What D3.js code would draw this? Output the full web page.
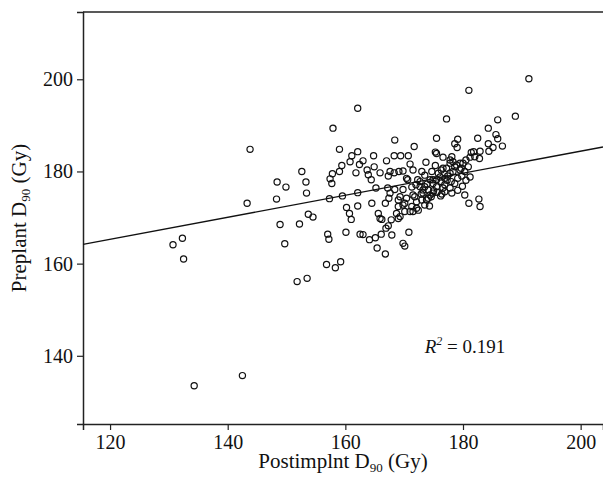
<!DOCTYPE html>
<html lang="en">
  <head>
    <meta charset="utf-8">
    <title>Preplant vs Postimplant D90</title>
    <script src="https://d3js.org/d3.v7.js"></script>
    <style>
      body { margin: 0; background: white; }
      svg { display: block; }
      text { font-family: "Liberation Serif", "DejaVu Serif", serif; fill: #111; }
    </style>
  </head>

  <body>
    <script>

      // data (Gy)
      const postD90 = [134.3, 142.5, 130.7, 132.3, 132.5, 149.7, 151.8, 153.5, 156.8, 158.3,
                       159.2, 157.0, 157.2, 160.1, 162.5, 163.0, 164.1, 165.1, 166.1, 167.9,
                       165.4, 166.8, 170.1, 170.8, 143.8, 148.4, 149.9, 143.3, 148.3, 148.9,
                       162.1, 157.9, 168.4, 171.7, 175.5, 175.3, 175.5, 159.0, 161.1, 162.1,
                       160.8, 163.0, 162.4, 164.8, 167.0, 168.3, 169.4, 170.7, 171.0, 173.7,
                       175.3, 159.4, 159.0, 152.6, 157.8, 157.4, 157.7, 161.8, 163.7, 164.9,
                       163.9, 164.4, 165.9, 167.3, 168.3, 169.1, 169.8, 171.5, 170.6, 173.0,
                       173.5, 174.7, 153.3, 153.4, 157.3, 159.5, 162.1, 165.2, 167.2, 167.6,
                       167.4, 168.4, 169.3, 169.8, 171.3, 171.5, 172.7, 173.2, 174.1, 174.9,
                       175.5, 174.6, 169.0, 170.1, 171.3, 172.1, 173.8, 174.3, 168.7, 171.0,
                       172.4, 162.1, 164.5, 166.8, 160.2, 160.7, 161.0, 165.6, 166.2, 167.8,
                       169.0, 167.3, 166.9, 153.7, 154.5, 152.2, 191.2, 181.0, 188.9, 185.9,
                       177.2, 184.3, 185.6, 185.9, 182.5, 179.1, 178.6, 179.0, 184.3, 185.1,
                       186.7, 184.4, 182.9, 181.4, 181.2, 182.0, 182.8, 180.5, 179.5, 178.1,
                       176.6, 177.8, 178.6, 180.3, 179.7, 176.6, 177.8, 175.8, 174.9, 176.9,
                       178.0, 175.5, 176.6, 175.0, 180.3, 182.7, 176.2, 176.9, 181.0, 182.9,
                       177.8, 167.6, 176.3, 177.2, 181.8, 180.0, 180.9, 178.3, 178.9, 179.5,
                       178.3, 170.4, 172.7, 173.5, 174.4, 176.3, 174.9, 174.1, 169.0, 170.4,
                       171.8, 173.0, 169.8, 172.1, 173.5, 170.1, 171.5, 165.9, 169.3, 169.8,
                       176.9, 177.8, 178.6, 179.1, 179.8, 180.5, 181.2, 178.1, 179.1, 179.9,
                       177.4, 176.1, 177.3, 173.9, 173.2, 172.3, 172.0, 172.9, 175.6, 176.4,
                       174.4];

      const preD90 = [133.5, 135.7, 164.1, 165.5, 161.0, 164.3, 156.1, 156.8, 159.8, 159.1,
                      160.4, 166.4, 165.3, 166.8, 166.4, 166.3, 165.2, 165.6, 166.4, 166.2,
                      163.4, 162.1, 163.8, 166.8, 184.8, 177.7, 176.6, 173.1, 174.0, 168.5,
                      193.7, 189.4, 186.8, 185.4, 187.2, 184.2, 183.9, 184.8, 183.4, 184.3,
                      182.1, 182.3, 181.5, 183.4, 182.3, 183.4, 183.4, 183.4, 181.6, 182.0,
                      181.3, 181.3, 180.0, 180.0, 179.5, 178.4, 177.4, 179.7, 180.3, 181.0,
                      179.3, 178.2, 179.7, 179.0, 179.7, 180.0, 180.1, 180.3, 178.2, 180.0,
                      179.2, 180.0, 177.7, 175.3, 174.1, 174.7, 175.4, 176.4, 176.4, 175.3,
                      174.2, 176.1, 174.5, 176.1, 176.6, 174.9, 176.7, 175.3, 176.0, 177.4,
                      178.2, 174.5, 172.4, 173.1, 172.4, 173.4, 173.8, 172.5, 170.9, 171.3,
                      171.6, 172.5, 173.1, 173.1, 172.2, 170.9, 169.6, 170.9, 169.6, 169.5,
                      169.8, 168.2, 167.7, 170.7, 170.1, 168.6, 200.1, 197.6, 192.0, 191.2,
                      191.4, 189.4, 188.0, 187.1, 187.2, 187.0, 186.0, 185.2, 186.0, 185.2,
                      185.5, 184.4, 184.4, 184.1, 183.1, 183.2, 182.8, 182.5, 181.8, 183.2,
                      183.1, 181.8, 181.0, 180.0, 180.7, 180.7, 179.6, 179.6, 178.2, 178.5,
                      177.8, 176.7, 176.4, 175.8, 174.9, 174.0, 174.7, 175.6, 173.1, 172.4,
                      182.5, 180.0, 180.3, 180.7, 184.3, 181.8, 181.0, 182.1, 181.4, 180.3,
                      180.0, 178.5, 177.8, 176.7, 178.2, 177.8, 175.3, 174.2, 173.8, 174.2,
                      174.5, 173.8, 172.7, 172.0, 172.7, 171.3, 171.3, 169.8, 170.2, 164.4,
                      177.1, 176.4, 177.4, 178.5, 179.0, 178.1, 178.8, 175.3, 175.9, 176.8,
                      179.0, 178.8, 178.1, 177.3, 176.0, 178.2, 177.1, 175.1, 175.5, 175.1,
                      174.9];

      const xTicks = [120, 140, 160, 180, 200];
      const yTicks = [140, 160, 180, 200];

      // least squares line: pre = a + b * post
      const fitA = 136.6;
      const fitB = 0.239;
      const rSquared = "0.191";

      const w = 603;
      const h = 479;
      const margin = {top: 12, right: 0, bottom: 55, left: 83};
      const innerWidth = w - margin.left - margin.right;
      const innerHeight = h - margin.top - margin.bottom;

      const points = postD90.map((d, i) => ({x: d, y: preD90[i]}));

      const xScale = d3.scaleLinear()
                       .domain([115.4, 203.8])
                       .range([0, innerWidth]);

      const yScale = d3.scaleLinear()
                       .domain([125.2, 214.6])
                       .range([innerHeight, 0]);

      const svg = d3.select("body")
                    .append("svg")
                    .attr("width", w)
                    .attr("height", h);

      svg.append("rect")
         .attr("width", w)
         .attr("height", h)
         .attr("fill", "white");

      const plot = svg.append("g")
                      .attr("transform", `translate(${margin.left}, ${margin.top})`);

      // top border
      plot.append("line")
          .attr("x1", 0)
          .attr("x2", innerWidth)
          .attr("y1", 0)
          .attr("y2", 0)
          .attr("stroke", "#222")
          .attr("stroke-width", 1.5);

      // axes
      const xAxis = d3.axisBottom(xScale)
                      .tickValues(xTicks)
                      .tickSize(6)
                      .tickPadding(5);

      const yAxis = d3.axisLeft(yScale)
                      .tickValues(yTicks)
                      .tickSize(6)
                      .tickPadding(4);

      const gx = plot.append("g")
                     .attr("transform", `translate(0, ${innerHeight})`)
                     .call(xAxis);

      const gy = plot.append("g")
                     .call(yAxis);

      [gx, gy].forEach(g => {
        g.select(".domain").attr("stroke", "#222").attr("stroke-width", 1.5);
        g.selectAll(".tick line").attr("stroke", "#222").attr("stroke-width", 1.2);
        g.selectAll(".tick text")
         .attr("fill", "#111")
         .style("font-family", "'Liberation Serif', serif")
         .style("font-size", "20px");
      });

      // regression line
      const xd = xScale.domain();
      plot.append("line")
          .attr("x1", xScale(xd[0]))
          .attr("y1", yScale(fitA + fitB * xd[0]))
          .attr("x2", xScale(xd[1]))
          .attr("y2", yScale(fitA + fitB * xd[1]))
          .attr("stroke", "#111")
          .attr("stroke-width", 1.3);

      // points
      plot.append("g")
          .selectAll("circle")
          .data(points)
          .enter()
          .append("circle")
          .attr("cx", d => xScale(d.x))
          .attr("cy", d => yScale(d.y))
          .attr("r", 3.1)
          .attr("fill", "none")
          .attr("stroke", "#111")
          .attr("stroke-width", 1.2);

      // R squared label
      const r2 = plot.append("text")
                     .attr("x", xScale(173.5))
                     .attr("y", yScale(140.5))
                     .style("font-size", "19px");
      r2.append("tspan").style("font-style", "italic").text("R");
      r2.append("tspan").style("font-style", "italic").style("font-size", "12px")
        .attr("dy", -8).text("2");
      r2.append("tspan").attr("dy", 8).text(" = " + rSquared);

      // axis titles
      const xt = svg.append("text")
                    .attr("x", margin.left + innerWidth / 2)
                    .attr("y", h - 11)
                    .attr("text-anchor", "middle")
                    .style("font-size", "21px");
      xt.append("tspan").text("Postimplnt D");
      xt.append("tspan").style("font-size", "13px").attr("dy", 4).text("90");
      xt.append("tspan").attr("dy", -4).text(" (Gy)");

      const yt = svg.append("text")
                    .attr("transform", `translate(26, ${margin.top + innerHeight / 2}) rotate(-90)`)
                    .attr("text-anchor", "middle")
                    .style("font-size", "21px");
      yt.append("tspan").text("Preplant D");
      yt.append("tspan").style("font-size", "13px").attr("dy", 4).text("90");
      yt.append("tspan").attr("dy", -4).text(" (Gy)");

    </script>
  </body>
</html>
